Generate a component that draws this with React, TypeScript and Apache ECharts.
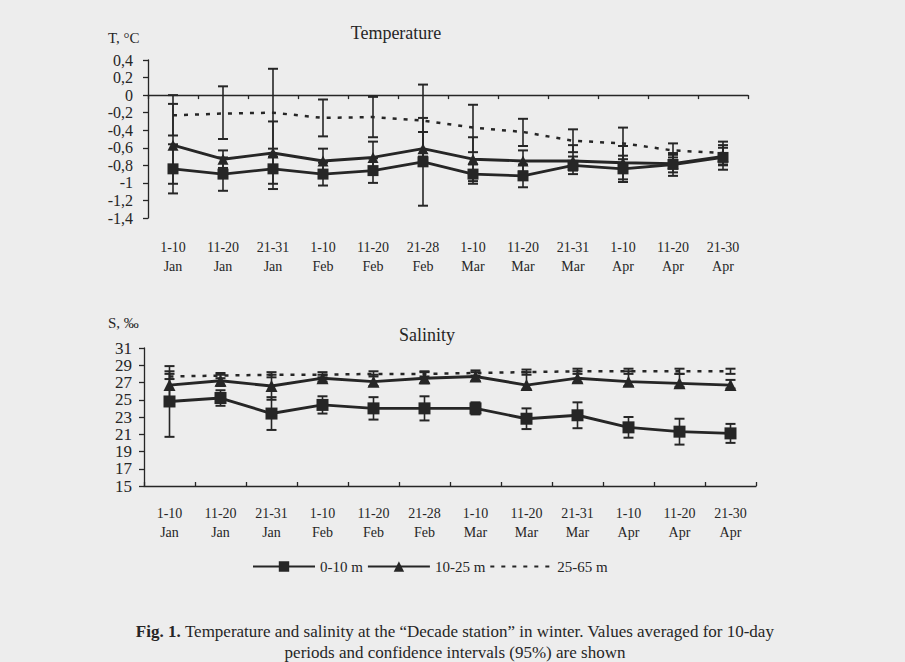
import React, { useEffect, useRef } from 'react';
import * as echarts from 'echarts';

// ---------- data ----------
const periods = ['1-10', '11-20', '21-31', '1-10', '11-20', '21-28', '1-10', '11-20', '21-31', '1-10', '11-20', '21-30'];
const months = ['Jan', 'Jan', 'Jan', 'Feb', 'Feb', 'Feb', 'Mar', 'Mar', 'Mar', 'Apr', 'Apr', 'Apr'];
const seriesNames = ['0-10 m', '10-25 m', '25-65 m'];

const tempTicks = [-1.4, -1.2, -1, -0.8, -0.6, -0.4, -0.2, 0, 0.2, 0.4];
const salinityTicks = [15, 17, 19, 21, 23, 25, 27, 29, 31];

// Temperature, °C
const tempSurface = [-0.84, -0.9, -0.84, -0.9, -0.86, -0.76, -0.9, -0.92, -0.8, -0.84, -0.79, -0.71];
const tempSurfaceLow = [-1.12, -1.09, -1.07, -1.03, -1.0, -1.26, -1.01, -1.05, -0.9, -0.99, -0.92, -0.85];
const tempSurfaceHigh = [-0.56, -0.71, -0.61, -0.77, -0.72, -0.26, -0.79, -0.79, -0.7, -0.69, -0.66, -0.57];

const tempMid = [-0.57, -0.73, -0.66, -0.75, -0.71, -0.61, -0.73, -0.75, -0.75, -0.77, -0.78, -0.7];
const tempMidLow = [-1.01, -0.83, -1.01, -0.89, -0.89, -0.8, -0.98, -0.87, -0.86, -0.96, -0.88, -0.8];
const tempMidHigh = [-0.1, -0.63, -0.3, -0.61, -0.53, -0.42, -0.48, -0.63, -0.57, -0.58, -0.68, -0.6];

const tempDeep = [-0.23, -0.21, -0.2, -0.26, -0.25, -0.29, -0.37, -0.42, -0.52, -0.55, -0.63, -0.66];
const tempDeepLow = [-0.46, -0.5, -0.7, -0.47, -0.48, -0.7, -0.65, -0.58, -0.65, -0.73, -0.71, -0.79];
const tempDeepHigh = [0.0, 0.1, 0.3, -0.05, -0.02, 0.12, -0.11, -0.27, -0.39, -0.37, -0.55, -0.53];

// Salinity, ‰
const salSurface = [24.8, 25.2, 23.4, 24.4, 24.0, 24.0, 24.0, 22.8, 23.2, 21.8, 21.3, 21.1];
const salSurfaceLow = [20.7, 24.3, 21.5, 23.4, 22.7, 22.6, 23.3, 21.6, 21.7, 20.6, 19.8, 20.0];
const salSurfaceHigh = [28.9, 26.1, 25.3, 25.4, 25.3, 25.4, 24.7, 24.0, 24.7, 23.0, 22.8, 22.2];

const salMid = [26.7, 27.2, 26.6, 27.5, 27.1, 27.5, 27.7, 26.7, 27.5, 27.1, 26.9, 26.7];
const salMidLow = [25.3, 26.6, 25.0, 27.1, 26.6, 26.9, 27.2, 26.2, 27.0, 26.6, 26.5, 26.3];
const salMidHigh = [28.3, 27.9, 27.9, 27.9, 27.9, 28.2, 28.2, 28.2, 28.3, 28.3, 28.0, 27.3];

const salDeep = [27.7, 27.8, 27.9, 27.9, 28.0, 28.0, 28.1, 28.2, 28.3, 28.3, 28.3, 28.3];
const salDeepLow = [27.4, 27.5, 27.6, 27.6, 27.7, 27.7, 27.8, 27.9, 28.0, 28.0, 28.0, 28.0];
const salDeepHigh = [28.0, 28.1, 28.2, 28.2, 28.3, 28.3, 28.4, 28.5, 28.6, 28.6, 28.6, 28.6];

// ---------- style ----------
const INK = '#262626';
const BG = '#ededed';
const FONT = '"Liberation Serif", "Times New Roman", "DejaVu Serif", serif';

const categoryLabels = periods.map((p, i) => `${p}\n${months[i]}`);

function errorBars(name: string, xAxisIndex: number, yAxisIndex: number, low: number[], high: number[]) {
  return {
    type: 'custom',
    name,
    xAxisIndex,
    yAxisIndex,
    silent: true,
    z: 2,
    data: low.map((l, i) => [i, l, high[i]]),
    encode: { x: 0, y: [1, 2] },
    renderItem: (_params: any, api: any) => {
      const i = api.value(0);
      const top = api.coord([i, api.value(2)]);
      const bot = api.coord([i, api.value(1)]);
      const cap = 5;
      const st = { stroke: INK, lineWidth: 1.6, fill: 'none' };
      const capSt = { stroke: INK, lineWidth: 2, fill: 'none' };
      return {
        type: 'group',
        children: [
          { type: 'line', shape: { x1: top[0], y1: top[1], x2: bot[0], y2: bot[1] }, style: st },
          { type: 'line', shape: { x1: top[0] - cap, y1: top[1], x2: top[0] + cap, y2: top[1] }, style: capSt },
          { type: 'line', shape: { x1: bot[0] - cap, y1: bot[1], x2: bot[0] + cap, y2: bot[1] }, style: capSt },
        ],
      };
    },
  };
}

function lineSeries(kind: number, xAxisIndex: number, yAxisIndex: number, data: number[], size: number) {
  const base: any = {
    type: 'line',
    name: seriesNames[kind],
    xAxisIndex,
    yAxisIndex,
    data,
    z: 3,
    itemStyle: { color: INK },
    lineStyle: { color: INK, width: 2.9 },
  };
  if (kind === 0) {
    base.symbol = 'rect';
    base.symbolSize = size;
  } else if (kind === 1) {
    base.symbol = 'triangle';
    base.symbolSize = size;
  } else {
    base.symbol = 'none';
    base.lineStyle = { color: INK, width: 2.5, type: [4, 7] };
  }
  return base;
}

const axisLineStyle = { color: INK, width: 1.3 };

const option: any = {
  animation: false,
  backgroundColor: BG,
  textStyle: { fontFamily: FONT, color: INK },
  grid: [
    { left: 148, top: 60, width: 600, height: 158 },
    { left: 144, top: 348, width: 612, height: 138 },
  ],
  xAxis: [
    {
      type: 'category',
      gridIndex: 0,
      position: 'bottom',
      data: categoryLabels,
      axisLine: { show: false, onZero: false },
      axisTick: { show: false },
      axisLabel: { interval: 0, margin: 19.5, lineHeight: 19, fontSize: 14, color: INK, fontFamily: FONT },
    },
    {
      type: 'category',
      gridIndex: 0,
      position: 'bottom',
      data: categoryLabels,
      axisLine: { show: true, onZero: true, lineStyle: axisLineStyle },
      axisTick: { show: true, length: 4, lineStyle: axisLineStyle },
      axisLabel: { show: false },
    },
    {
      type: 'category',
      gridIndex: 1,
      position: 'bottom',
      data: categoryLabels,
      axisLine: { show: true, onZero: false, lineStyle: axisLineStyle },
      axisTick: { show: true, inside: true, length: 4, lineStyle: axisLineStyle },
      axisLabel: { interval: 0, margin: 17.5, lineHeight: 19, fontSize: 14, color: INK, fontFamily: FONT },
    },
  ],
  yAxis: [
    {
      type: 'value',
      gridIndex: 0,
      min: -1.4,
      max: 0.4,
      splitLine: { show: false },
      axisLine: { show: true, lineStyle: axisLineStyle },
      axisTick: { show: true, length: 5, customValues: tempTicks, lineStyle: axisLineStyle },
      axisLabel: {
        customValues: tempTicks,
        margin: 15,
        fontSize: 16,
        color: INK,
        fontFamily: FONT,
        formatter: (v: number) => String(v).replace('.', ','),
      },
    },
    {
      type: 'value',
      gridIndex: 1,
      min: 15,
      max: 31,
      splitLine: { show: false },
      axisLine: { show: true, lineStyle: axisLineStyle },
      axisTick: { show: true, length: 5, customValues: salinityTicks, lineStyle: axisLineStyle },
      axisLabel: { customValues: salinityTicks, margin: 12, fontSize: 17, color: INK, fontFamily: FONT },
    },
  ],
  legend: {
    data: [
      { name: seriesNames[0] },
      { name: seriesNames[1] },
      {
        name: seriesNames[2],
        itemStyle: { color: 'rgba(0,0,0,0)', borderColor: 'rgba(0,0,0,0)', borderWidth: 0, opacity: 0 },
      },
    ],
    left: 247,
    top: 554,
    itemWidth: 62,
    itemHeight: 13,
    itemGap: 4,
    selectedMode: false,
    textStyle: { fontSize: 15, color: INK, fontFamily: FONT },
  },
  graphic: [
    { type: 'text', x: 108, y: 38, style: { text: 'T, °C', fontSize: 15, fontFamily: FONT, fill: INK, align: 'left', verticalAlign: 'middle', textAlign: 'left', textVerticalAlign: 'middle' } },
    { type: 'text', x: 396, y: 33, style: { text: 'Temperature', fontSize: 18, fontFamily: FONT, fill: INK, align: 'center', verticalAlign: 'middle', textAlign: 'center', textVerticalAlign: 'middle' } },
    { type: 'text', x: 108, y: 323, style: { text: 'S, ‰', fontSize: 15, fontFamily: FONT, fill: INK, align: 'left', verticalAlign: 'middle', textAlign: 'left', textVerticalAlign: 'middle' } },
    { type: 'text', x: 427, y: 335, style: { text: 'Salinity', fontSize: 18, fontFamily: FONT, fill: INK, align: 'center', verticalAlign: 'middle', textAlign: 'center', textVerticalAlign: 'middle' } },
    {
      type: 'text',
      x: 455,
      y: 631,
      style: {
        text: '{b|Fig. 1.} Temperature and salinity at the “Decade station” in winter. Values averaged for 10-day',
        fontSize: 17,
        fontFamily: FONT,
        fill: INK,
        align: 'center',
        verticalAlign: 'middle',
        textAlign: 'center',
        textVerticalAlign: 'middle',
        rich: { b: { fontWeight: 'bold', fontSize: 17, fontFamily: FONT, fill: INK } },
      },
    },
    { type: 'text', x: 455, y: 652, style: { text: 'periods and confidence intervals (95%) are shown', fontSize: 17, fontFamily: FONT, fill: INK, align: 'center', verticalAlign: 'middle', textAlign: 'center', textVerticalAlign: 'middle' } },
  ],
  series: [
    errorBars('err-t-deep', 0, 0, tempDeepLow, tempDeepHigh),
    errorBars('err-t-mid', 0, 0, tempMidLow, tempMidHigh),
    errorBars('err-t-surf', 0, 0, tempSurfaceLow, tempSurfaceHigh),
    lineSeries(2, 0, 0, tempDeep, 0),
    lineSeries(1, 0, 0, tempMid, 11),
    lineSeries(0, 0, 0, tempSurface, 11),
    errorBars('err-s-deep', 2, 1, salDeepLow, salDeepHigh),
    errorBars('err-s-mid', 2, 1, salMidLow, salMidHigh),
    errorBars('err-s-surf', 2, 1, salSurfaceLow, salSurfaceHigh),
    lineSeries(2, 2, 1, salDeep, 0),
    lineSeries(1, 2, 1, salMid, 12),
    lineSeries(0, 2, 1, salSurface, 12),
  ],
};

export default function App() {
  const ref = useRef<HTMLDivElement>(null);
  useEffect(() => {
    if (!ref.current) return;
    const chart = echarts.init(ref.current, null, { renderer: 'svg' });
    chart.setOption(option);
    return () => chart.dispose();
  }, []);
  return (
    <div
      ref={ref}
      style={{ position: 'fixed', left: 0, top: 0, width: 905, height: 662, background: BG }}
    />
  );
}
